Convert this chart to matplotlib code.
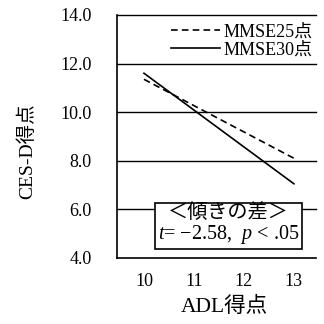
import matplotlib
matplotlib.use("Agg")
import matplotlib.pyplot as plt

plt.rcParams['font.family'] = ['Liberation Serif', 'Noto Sans CJK JP']
plt.rcParams['mathtext.fontset'] = 'custom'
plt.rcParams['mathtext.rm'] = 'Liberation Serif'
plt.rcParams['mathtext.it'] = 'Liberation Serif:italic'

x_vals = [10, 13]
mmse25 = [11.35, 8.1]
mmse30 = [11.6, 7.05]
xticks = [10, 11, 12, 13]
yticks = [4.0, 6.0, 8.0, 10.0, 12.0, 14.0]

fig = plt.figure(figsize=(3.24, 3.24), dpi=100)
ax = fig.add_axes([0.361, 0.204, 0.614, 0.750])
ax.set_xlim(9.46, 13.44)
ax.set_ylim(4.0, 14.0)

for y in yticks[1:]:
    ax.axhline(y, color='black', lw=1.0, zorder=1, clip_on=False)

ax.plot(x_vals, mmse25, color='black', lw=1.2, ls=(0, (4, 2.5)), label='MMSE25点', zorder=3)
ax.plot(x_vals, mmse30, color='black', lw=1.2, ls='-', label='MMSE30点', zorder=3)

for s in ['top', 'right']:
    ax.spines[s].set_visible(False)
ax.spines['left'].set_linewidth(1.2)
ax.spines['bottom'].set_linewidth(1.2)

ax.set_xticks(xticks)
ax.set_xticklabels([str(t) for t in xticks], fontsize=13)
ax.set_yticks(yticks)
ax.set_yticklabels([f"{t:.1f}" for t in yticks], fontsize=13)
ax.tick_params(axis='y', length=0, pad=18)
ax.tick_params(axis='x', length=0, pad=11)

ax.set_ylabel('CES-D得点', fontsize=14, va='center')
ax.yaxis.set_label_coords(-0.452, 0.44)
ax.set_xlabel('ADL得点', fontsize=15.5, va='top')
ax.xaxis.set_label_coords(0.538, -0.16)

leg = ax.legend(loc='upper right', frameon=False, fontsize=13, handlelength=2.7,
                handletextpad=0.2, borderaxespad=0.0, labelspacing=0.05,
                bbox_to_anchor=(1.02, 0.995))

ax.text(0.56, 0.136, '＜傾きの差＞\n$t$= −2.58,  $p$ < .05', transform=ax.transAxes,
        ha='center', va='center', fontsize=14.5, linespacing=1.0, zorder=5,
        bbox=dict(boxstyle='square,pad=0.15', fc='white', ec='black', lw=1.2))

fig.savefig('out.png', dpi=100)
